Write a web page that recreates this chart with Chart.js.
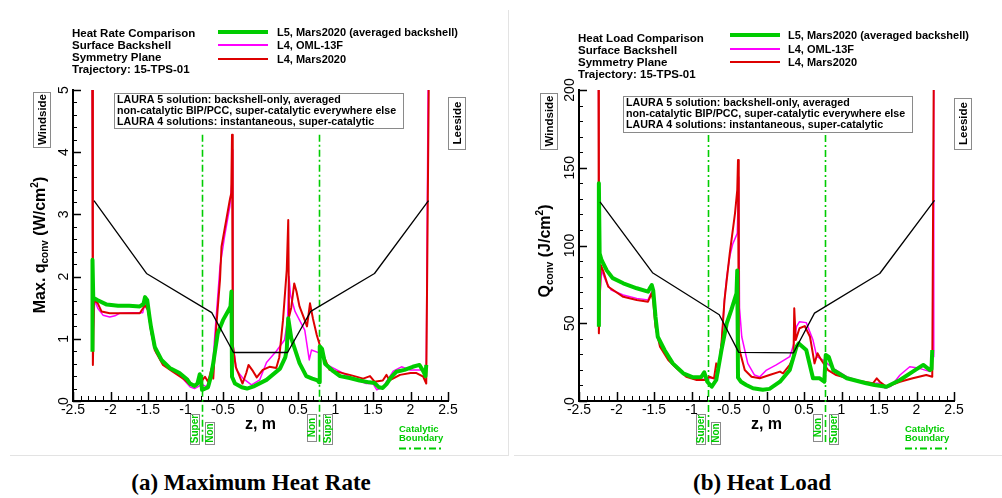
<!DOCTYPE html>
<html>
<head>
<meta charset="utf-8">
<title>Backshell heating comparison</title>
<script src="https://cdn.jsdelivr.net/npm/chart.js@4.4.1/dist/chart.umd.min.js"></script>
<style>
  html, body { margin: 0; padding: 0; background: #fff; }
  body { width: 1002px; height: 498px; position: relative; overflow: hidden; }
  canvas { position: absolute; top: 0; }
  #rate { left: 0; }
  #load { left: 508px; }
  .rule { position: absolute; background: #e3e3e3; }
  .caption { position: absolute; top: 470px; width: 400px; line-height: 26px; text-align: center;
             font: bold 23px "Liberation Serif", "DejaVu Serif", serif; color: #000; }
</style>
</head>
<body>
<canvas id="rate" width="508" height="460"></canvas>
<canvas id="load" width="494" height="460"></canvas>
<div class="rule" style="left:508px;top:10px;width:1px;height:446px"></div>
<div class="rule" style="left:10px;top:455px;width:499px;height:1px"></div>
<div class="rule" style="left:514px;top:455px;width:488px;height:1px"></div>
<div class="caption" style="left:51px">(a) Maximum Heat Rate</div>
<div class="caption" style="left:562px">(b) Heat Load</div>
<script>
// ---------- axis ticks ----------
const zTicks = [-2.5, -2, -1.5, -1, -0.5, 0, 0.5, 1, 1.5, 2, 2.5];
const rateTicks = [0, 1, 2, 3, 4, 5];
const loadTicks = [0, 50, 100, 150, 200];
const catalyticZ = [-0.78, 0.78];

const seriesLabels = ['L5, Mars2020 (averaged backshell)', 'L4, OML-13F', 'L4, Mars2020'];

// ---------- maximum heat rate, W/cm^2  [z, q] ----------
const rateL5 = [[-2.24,0.79],[-2.24,2.27],[-2.23,1.66],[-2.17,1.62],[-2.05,1.55],[-1.90,1.53],[-1.75,1.53],
  [-1.61,1.52],[-1.56,1.56],[-1.54,1.67],[-1.51,1.62],[-1.48,1.35],[-1.46,1.19],[-1.41,0.87],[-1.32,0.66],
  [-1.21,0.53],[-1.08,0.45],[-0.98,0.35],[-0.94,0.28],[-0.88,0.24],[-0.84,0.28],[-0.81,0.43],[-0.79,0.32],
  [-0.78,0.18],[-0.74,0.20],[-0.70,0.22],[-0.66,0.40],[-0.63,0.61],[-0.57,1.09],[-0.50,1.30],[-0.43,1.45],
  [-0.40,1.52],[-0.387,1.76],[-0.38,0.39],[-0.34,0.28],[-0.25,0.22],[-0.18,0.20],[-0.08,0.24],[0.08,0.34],
  [0.26,0.52],[0.33,0.70],[0.35,0.82],[0.37,1.33],[0.41,1.01],[0.52,0.61],[0.61,0.40],[0.69,0.36],
  [0.76,0.33],[0.78,0.30],[0.79,0.88],[0.82,0.84],[0.86,0.60],[0.97,0.48],[1.06,0.40],[1.19,0.37],
  [1.32,0.33],[1.45,0.30],[1.52,0.29],[1.58,0.22],[1.63,0.21],[1.68,0.27],[1.74,0.38],[1.81,0.47],
  [1.92,0.50],[2.03,0.55],[2.12,0.58],[2.17,0.48],[2.20,0.40],[2.21,0.58]];
const rateOML = [[-2.245,6],[-2.235,1.0],[-2.21,1.62],[-2.17,1.49],[-2.10,1.38],[-2.01,1.35],[-1.94,1.37],
  [-1.88,1.41],[-1.70,1.42],[-1.57,1.42],[-1.53,1.62],[-1.50,1.49],[-1.46,1.09],[-1.39,0.77],[-1.25,0.55],
  [-1.08,0.42],[-0.94,0.23],[-0.88,0.20],[-0.82,0.24],[-0.77,0.26],[-0.72,0.23],[-0.65,0.39],[-0.59,1.36],
  [-0.54,2.16],[-0.48,2.64],[-0.41,3.12],[-0.375,3.6],[-0.37,4.04],[-0.365,0.9],[-0.32,0.50],[-0.23,0.36],
  [-0.12,0.26],[-0.01,0.34],[0.08,0.62],[0.21,0.80],[0.32,0.98],[0.36,1.3],[0.38,2.0],[0.40,1.7],
  [0.46,1.44],[0.52,1.30],[0.59,1.14],[0.65,0.66],[0.68,0.82],[0.79,0.77],[0.89,0.58],[1.19,0.39],
  [1.41,0.28],[1.50,0.28],[1.55,0.18],[1.63,0.22],[1.77,0.48],[1.88,0.55],[1.99,0.50],[2.17,0.50],
  [2.21,0.52],[2.24,6]];
const rateMars = [[-2.245,6],[-2.235,0.58],[-2.22,1.62],[-2.17,1.57],[-2.12,1.44],[-2.01,1.41],[-1.80,1.41],
  [-1.61,1.41],[-1.54,1.54],[-1.50,1.46],[-1.46,1.14],[-1.41,0.82],[-1.30,0.58],[-1.17,0.47],[-1.03,0.36],
  [-0.94,0.26],[-0.85,0.26],[-0.79,0.31],[-0.74,0.39],[-0.70,0.31],[-0.65,0.53],[-0.63,0.36],[-0.59,1.19],
  [-0.54,1.95],[-0.52,2.48],[-0.41,3.23],[-0.39,3.34],[-0.38,4.28],[-0.37,0.9],[-0.33,0.55],[-0.28,0.40],
  [-0.24,0.28],[-0.19,0.45],[-0.16,0.58],[-0.10,0.48],[-0.05,0.38],[0.03,0.50],[0.12,0.55],[0.21,0.53],
  [0.25,0.70],[0.30,1.30],[0.35,2.11],[0.37,2.91],[0.38,1.35],[0.41,1.50],[0.45,1.89],[0.48,1.76],
  [0.52,1.52],[0.59,1.30],[0.62,1.20],[0.66,1.57],[0.70,1.32],[0.75,1.06],[0.81,0.82],[0.92,0.50],
  [1.19,0.42],[1.37,0.36],[1.46,0.40],[1.52,0.31],[1.63,0.33],[1.68,0.42],[1.72,0.33],[1.86,0.42],
  [2.00,0.45],[2.08,0.45],[2.17,0.39],[2.21,0.28],[2.25,6]];
// backshell outline (scaled), heat-rate axis units
const rateShape = [[-2.22,3.22],[-1.52,2.05],[-0.65,1.42],[-0.36,0.78],[0.36,0.78],[0.67,1.44],[1.52,2.05],[2.24,3.22]];

// ---------- heat load, J/cm^2  [z, Q] ----------
const loadL5 = [[-2.235,47.8],[-2.235,140],[-2.225,95],[-2.20,90.7],[-2.13,84],[-2.05,79],[-1.91,75.7],
  [-1.73,72.5],[-1.58,70.3],[-1.55,73],[-1.53,74.6],[-1.51,71],[-1.48,54.2],[-1.45,41.3],[-1.36,32.8],
  [-1.25,24.2],[-1.11,17.8],[-0.98,15.2],[-0.87,15.4],[-0.83,18.5],[-0.79,12.4],[-0.73,9.2],[-0.67,13.5],
  [-0.60,32.8],[-0.53,50],[-0.47,58.5],[-0.40,69.3],[-0.39,84],[-0.38,15],[-0.34,12.4],[-0.27,10.3],
  [-0.18,8.2],[-0.05,7.2],[0.04,7.8],[0.18,12.4],[0.31,19.9],[0.40,34.9],[0.43,37],[0.53,32.8],
  [0.62,14.6],[0.71,14.6],[0.77,12.4],[0.79,29.6],[0.83,28.3],[0.89,19.9],[1.07,14.6],[1.33,11.4],
  [1.44,10.3],[1.60,9.2],[1.78,13.5],[1.95,18.9],[2.09,23.2],[2.18,19.9],[2.20,20.5],[2.21,32.8]];
const loadOML = [[-2.24,210],[-2.23,60],[-2.20,84],[-2.13,75.7],[-2.07,71.4],[-1.91,68.2],[-1.73,66],
  [-1.58,65],[-1.53,70.3],[-1.51,66],[-1.48,50],[-1.42,36],[-1.31,27],[-1.20,21.5],[-1.07,16],[-0.93,14],
  [-0.82,14],[-0.76,15],[-0.69,14.5],[-0.64,18],[-0.60,37.1],[-0.56,65],[-0.53,80],[-0.49,92.8],
  [-0.45,101],[-0.39,107.8],[-0.37,144],[-0.36,60],[-0.33,41.3],[-0.25,24.2],[-0.16,16.7],[-0.09,15.5],
  [0,19.9],[0.13,23.2],[0.31,28.5],[0.36,36],[0.40,47.8],[0.44,51],[0.53,50.4],[0.62,39.2],[0.67,28.5],
  [0.75,26.4],[0.89,21],[1.07,15.6],[1.33,11.4],[1.51,11.4],[1.58,8.2],[1.66,9.5],[1.78,16.7],[1.91,22],
  [2.04,21],[2.18,18.9],[2.22,28.5],[2.23,210]];
const loadMars = [[-2.24,210],[-2.235,43.5],[-2.21,87.5],[-2.18,84],[-2.11,73.5],[-1.91,67],[-1.73,64.9],
  [-1.58,63.9],[-1.53,69.3],[-1.51,63.9],[-1.48,47.8],[-1.42,34.9],[-1.31,26.4],[-1.20,21],[-1.07,15.6],
  [-0.93,13.5],[-0.82,13.5],[-0.76,15.6],[-0.70,14.5],[-0.67,24.2],[-0.64,19.9],[-0.60,37.1],[-0.56,65],
  [-0.49,95],[-0.42,120.7],[-0.39,135.7],[-0.38,155],[-0.37,40],[-0.36,32.8],[-0.29,19.9],[-0.20,15.6],
  [-0.09,14.6],[0.04,16.7],[0.18,18.9],[0.22,17.8],[0.31,23.2],[0.36,28.5],[0.37,59.6],[0.39,39.2],
  [0.44,46.8],[0.51,48.2],[0.58,41.3],[0.64,24.2],[0.68,30.7],[0.73,26.4],[0.82,19.9],[0.93,16.7],
  [1.16,13.5],[1.42,11.4],[1.47,14.6],[1.51,12.4],[1.60,9.2],[1.78,12.4],[1.95,14.6],[2.13,16.7],
  [2.21,15.6],[2.23,210]];
// backshell outline (scaled), heat-load axis units
const loadShape = [[-2.22,128],[-1.52,82.5],[-0.63,55.5],[-0.37,31.3],[0.36,31],[0.64,56.5],[1.51,82],[2.24,129]];

// ---------- styling ----------
const FONT = '"Liberation Sans", Arial, Helvetica, sans-serif';
const GREEN = '#00cc00', MAGENTA = '#ff00ff', RED = '#dd0000', BLACK = '#000000', BOXLINE = '#8a8a8a';
Chart.defaults.font.family = FONT;
Chart.defaults.color = BLACK;

const pts = arr => arr.map(([x, y]) => ({ x, y }));

function rotText(ctx, text, cx, cy, font, color) {
  ctx.save();
  ctx.translate(cx, cy);
  ctx.rotate(-Math.PI / 2);
  ctx.font = font; ctx.fillStyle = color;
  ctx.textAlign = 'center'; ctx.textBaseline = 'middle';
  ctx.fillText(text, 0, 0);
  ctx.restore();
}

function box(ctx, x0, y0, x1, y1) {
  ctx.save();
  ctx.fillStyle = '#fff';
  ctx.fillRect(x0, y0, x1 - x0, y1 - y0);
  ctx.strokeStyle = BOXLINE; ctx.lineWidth = 1; ctx.setLineDash([]);
  ctx.strokeRect(Math.round(x0) + 0.5, Math.round(y0) + 0.5, Math.round(x1 - x0), Math.round(y1 - y0));
  ctx.restore();
}

function boxedRot(ctx, text, x0, y0, x1, y1, font, color) {
  box(ctx, x0, y0, x1, y1);
  rotText(ctx, text, (x0 + x1) / 2 + 1, (y0 + y1) / 2, font, color);
}

// rotated axis title made of runs: [text, size, baseline shift]
function richRot(ctx, parts, baseX, cy) {
  ctx.save();
  ctx.translate(baseX, cy);
  ctx.rotate(-Math.PI / 2);
  ctx.fillStyle = BLACK; ctx.textAlign = 'left'; ctx.textBaseline = 'alphabetic';
  let total = 0;
  parts.forEach(([t, s]) => { ctx.font = `bold ${s}px ${FONT}`; total += ctx.measureText(t).width; });
  let x = -total / 2;
  parts.forEach(([t, s, dy]) => {
    ctx.font = `bold ${s}px ${FONT}`;
    ctx.fillText(t, x, dy);
    x += ctx.measureText(t).width;
  });
  ctx.restore();
}

function makeDecor(p) {
  return {
    id: 'decor',
    beforeDatasetsDraw(chart) {
      const { ctx, scales: { x, y } } = chart;
      ctx.save();
      ctx.strokeStyle = GREEN; ctx.lineWidth = 1.6; ctx.setLineDash([7, 3, 2, 3]);
      catalyticZ.forEach(z => {
        const px = Math.round(x.getPixelForValue(z)) + 0.5;
        ctx.beginPath();
        ctx.moveTo(px, y.getPixelForValue(p.boundaryTop));
        ctx.lineTo(px, p.boundaryEnd);
        ctx.stroke();
      });
      ctx.restore();
    },
    afterDatasetsDraw(chart) {
      const { ctx, chartArea: a, scales: { x, y } } = chart;
      ctx.save();
      ctx.setLineDash([]);
      ctx.strokeStyle = BLACK;

      // inward tick marks, x
      for (let k = -25; k <= 25; k++) {
        const major = k % 5 === 0;
        const px = Math.round(x.getPixelForValue(k / 10)) + 0.5;
        ctx.lineWidth = major ? 1.5 : 1;
        ctx.beginPath(); ctx.moveTo(px, a.bottom); ctx.lineTo(px, a.bottom - (major ? 9 : 5)); ctx.stroke();
      }
      // inward tick marks, y
      const nMinor = Math.round(p.yMax / p.yMinor);
      for (let k = 0; k <= nMinor; k++) {
        const v = k * p.yMinor;
        const major = p.yTicks.some(t => Math.abs(t - v) < 1e-6);
        const py = Math.round(y.getPixelForValue(v)) + 0.5;
        ctx.lineWidth = major ? 1.5 : 1;
        ctx.beginPath(); ctx.moveTo(a.left, py); ctx.lineTo(a.left + (major ? 8 : 4), py); ctx.stroke();
      }
      // y tick labels, rotated
      p.yTicks.forEach(v => rotText(ctx, String(v), a.left - 8.5, y.getPixelForValue(v), `14px ${FONT}`, BLACK));

      // axis titles
      richRot(ctx, p.yTitle, p.yTitleX, p.yTitleY);
      ctx.font = `bold 16px ${FONT}`; ctx.fillStyle = BLACK;
      ctx.textAlign = 'center'; ctx.textBaseline = 'middle';
      ctx.fillText('z, m', (a.left + a.right) / 2, 425);

      // header text and legend
      ctx.font = `bold 11.5px ${FONT}`; ctx.textAlign = 'left'; ctx.textBaseline = 'middle';
      p.titleLines.forEach((t, i) => ctx.fillText(t, p.titleX, p.titleY[i]));
      ctx.font = `bold 11px ${FONT}`;
      [0, 1, 2].forEach((di, i) => {
        const ds = chart.data.datasets[di];
        ctx.strokeStyle = ds.borderColor;
        ctx.lineWidth = Math.max(ds.borderWidth, 2);
        ctx.beginPath(); ctx.moveTo(p.legendX[0], p.legendY[i]); ctx.lineTo(p.legendX[1], p.legendY[i]); ctx.stroke();
        ctx.fillStyle = BLACK;
        ctx.fillText(ds.label, p.legendTextX, p.legendY[i] + 0.5);
      });

      // solution note
      const nb = p.noteBox;
      box(ctx, nb[0], nb[1], nb[2], nb[3]);
      ctx.fillStyle = BLACK; ctx.font = `bold 10.7px ${FONT}`;
      p.noteLines.forEach((t, i) => ctx.fillText(t, nb[0] + 3, p.noteY[i]));

      // side tags
      boxedRot(ctx, 'Windside', p.wind[0], p.wind[1], p.wind[2], p.wind[3], `bold 11.5px ${FONT}`, BLACK);
      boxedRot(ctx, 'Leeside', p.lee[0], p.lee[1], p.lee[2], p.lee[3], `bold 11.5px ${FONT}`, BLACK);

      // catalytic boundary tags
      const b0 = Math.round(x.getPixelForValue(catalyticZ[0]));
      const b1 = Math.round(x.getPixelForValue(catalyticZ[1]));
      const tf = `bold 10px ${FONT}`;
      boxedRot(ctx, 'Super', b0 - 12, 414, b0 - 3, 444, tf, GREEN);
      boxedRot(ctx, 'Non', b0 + 3, 422, b0 + 12, 444, tf, GREEN);
      boxedRot(ctx, 'Non', b1 - 12, 414, b1 - 3, 441, tf, GREEN);
      boxedRot(ctx, 'Super', b1 + 4, 414, b1 + 13, 444, tf, GREEN);

      // catalytic boundary key
      ctx.fillStyle = GREEN; ctx.font = `bold 9.5px ${FONT}`; ctx.textAlign = 'left';
      ctx.fillText('Catalytic', p.keyX, 429.5);
      ctx.fillText('Boundary', p.keyX, 438.5);
      ctx.strokeStyle = GREEN; ctx.lineWidth = 2; ctx.setLineDash([7, 3, 2, 3]);
      ctx.beginPath(); ctx.moveTo(p.keyX, 448.5); ctx.lineTo(p.keyX + 43, 448.5); ctx.stroke();
      ctx.restore();
    }
  };
}

function makePanel(id, p) {
  const canvas = document.getElementById(id);
  const datasets = [
    { label: seriesLabels[0], data: pts(p.series[0]), borderColor: GREEN, borderWidth: 4, order: 2 },
    { label: seriesLabels[1], data: pts(p.series[1]), borderColor: MAGENTA, borderWidth: 1.5, order: 4 },
    { label: seriesLabels[2], data: pts(p.series[2]), borderColor: RED, borderWidth: 2, order: 3 },
    { label: 'outline', data: pts(p.shape), borderColor: BLACK, borderWidth: 1.3, order: 1 }
  ];
  return new Chart(canvas, {
    type: 'line',
    data: { datasets },
    options: {
      responsive: false,
      animation: false,
      devicePixelRatio: 1,
      elements: { point: { radius: 0 }, line: { tension: 0, borderJoinStyle: 'round', fill: false } },
      plugins: { legend: { display: false }, tooltip: { enabled: false } },
      layout: { padding: { left: 0, top: 90, right: canvas.width - p.areaRight, bottom: canvas.height - 401 - 30 } },
      scales: {
        x: {
          type: 'linear', min: -2.5, max: 2.5,
          afterBuildTicks: s => { s.ticks = zTicks.map(v => ({ value: v })); },
          afterFit: s => { s.height = 30; },
          grid: { display: false, drawTicks: false },
          border: { display: true, color: BLACK, width: 2 },
          ticks: { font: { size: 14 }, color: BLACK, padding: 1, maxRotation: 0, autoSkip: false,
                   callback: v => String(v) }
        },
        y: {
          type: 'linear', min: 0, max: p.yMax,
          afterFit: s => { s.width = p.areaLeft; },
          grid: { display: false, drawTicks: false },
          border: { display: true, color: BLACK, width: 2 },
          ticks: { display: false }
        }
      }
    },
    plugins: [makeDecor(p)]
  });
}

const titleCommon = ['Surface Backshell', 'Symmetry Plane', 'Trajectory: 15-TPS-01'];
const noteLines = ['LAURA 5 solution: backshell-only, averaged',
                   'non-catalytic BIP/PCC, super-catalytic everywhere else',
                   'LAURA 4 solutions: instantaneous, super-catalytic'];

makePanel('rate', {
  series: [rateL5, rateOML, rateMars], shape: rateShape,
  areaLeft: 73, areaRight: 448, yMax: 5, yTicks: rateTicks, yMinor: 0.2,
  boundaryTop: 4.28, boundaryEnd: 444,
  yTitle: [['Max. q', 16, 0], ['conv', 10, 3], [' (W/cm', 16, 0], ['2', 10, -7], [')', 16, 0]],
  yTitleX: 45, yTitleY: 245,
  titleLines: ['Heat Rate Comparison', ...titleCommon], titleX: 72, titleY: [34, 46, 58, 70],
  legendX: [218, 268], legendY: [32, 45, 59], legendTextX: 277,
  noteLines, noteBox: [114, 93, 403, 128], noteY: [100, 111, 122],
  wind: [33, 92, 50, 147], lee: [448, 97, 465, 149], keyX: 399
});

makePanel('load', {
  series: [loadL5, loadOML, loadMars], shape: loadShape,
  areaLeft: 71, areaRight: 446, yMax: 200, yTicks: loadTicks, yMinor: 10,
  boundaryTop: 171, boundaryEnd: 444,
  yTitle: [['Q', 16, 0], ['conv', 10, 3], [' (J/cm', 16, 0], ['2', 10, -7], [')', 16, 0]],
  yTitleX: 42, yTitleY: 251,
  titleLines: ['Heat Load Comparison', ...titleCommon], titleX: 70, titleY: [39, 51, 63, 74.5],
  legendX: [222, 272], legendY: [35, 49, 62], legendTextX: 280,
  noteLines, noteBox: [115, 96, 404, 132], noteY: [103, 114, 125],
  wind: [32, 93, 49, 149], lee: [446, 98, 463, 149], keyX: 397
});
</script>
</body>
</html>
